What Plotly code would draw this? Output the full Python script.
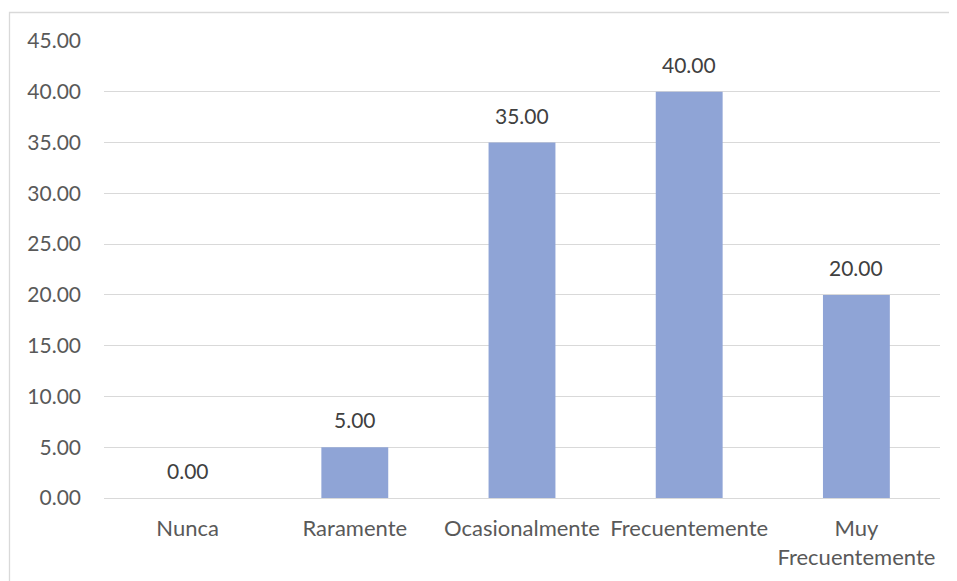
import plotly.graph_objects as go

categories = ["Nunca", "Raramente", "Ocasionalmente", "Frecuentemente", "Muy<br>Frecuentemente"]
values = [0.0, 5.0, 35.0, 40.0, 20.0]
y_ticks = [0, 5, 10, 15, 20, 25, 30, 35, 40, 45]
y_tick_labels = ["%.2f" % v for v in y_ticks]

FONT = "Lato"
BAR = "#8FA4D6"
GRID = "#D9D9D9"

OFF = 8  # page body margin
W, H = 957 - OFF, 581 - OFF
L, R, T, B = 104 - OFF, 17, 41 - OFF, 83
pw, ph = W - L - R, H - T - B

fig = go.Figure()
fig.add_trace(go.Bar(
    x=categories, y=values,
    marker=dict(color=BAR, line=dict(width=0)),
    width=0.4,
    hoverinfo="skip",
))

for c, v in zip(categories, values):
    fig.add_annotation(
        x=c, y=v, xref="x", yref="y",
        text="%.2f" % v, showarrow=False,
        yanchor="bottom", yshift=13,
        font=dict(family=FONT, size=21, color="#404040"),
    )

# chart border (top and left visible; right/bottom cropped in the reference)
def px_to_paper_x(px):
    return (px - OFF - L) / pw

def px_to_paper_y(py):
    return (H - B - (py - OFF)) / ph

fig.add_shape(
    type="rect", xref="paper", yref="paper",
    x0=px_to_paper_x(9.5), x1=px_to_paper_x(990),
    y0=px_to_paper_y(620), y1=px_to_paper_y(12.5),
    line=dict(color=GRID, width=1.3), fillcolor="rgba(0,0,0,0)",
    layer="below",
)

fig.update_layout(
    width=W, height=H,
    margin=dict(l=L, r=R, t=T, b=B, pad=0),
    paper_bgcolor="white", plot_bgcolor="white",
    showlegend=False,
    bargap=0.6,
    font=dict(family=FONT, size=21, color="#595959"),
    xaxis=dict(
        type="category",
        showgrid=False, zeroline=False, showline=False,
        ticks="", ticklabelstandoff=15,
        tickfont=dict(family=FONT, size=22, color="#595959"),
    ),
    yaxis=dict(
        range=[0, 45], autorange=False,
        tickvals=y_ticks, ticktext=y_tick_labels,
        showgrid=True, gridcolor=GRID, gridwidth=1.3,
        zeroline=True, zerolinecolor=GRID, zerolinewidth=1.3,
        showline=False, ticks="", ticklabelstandoff=22,
        tickfont=dict(family=FONT, size=21, color="#595959"),
    ),
)

fig.write_html("out.html")
